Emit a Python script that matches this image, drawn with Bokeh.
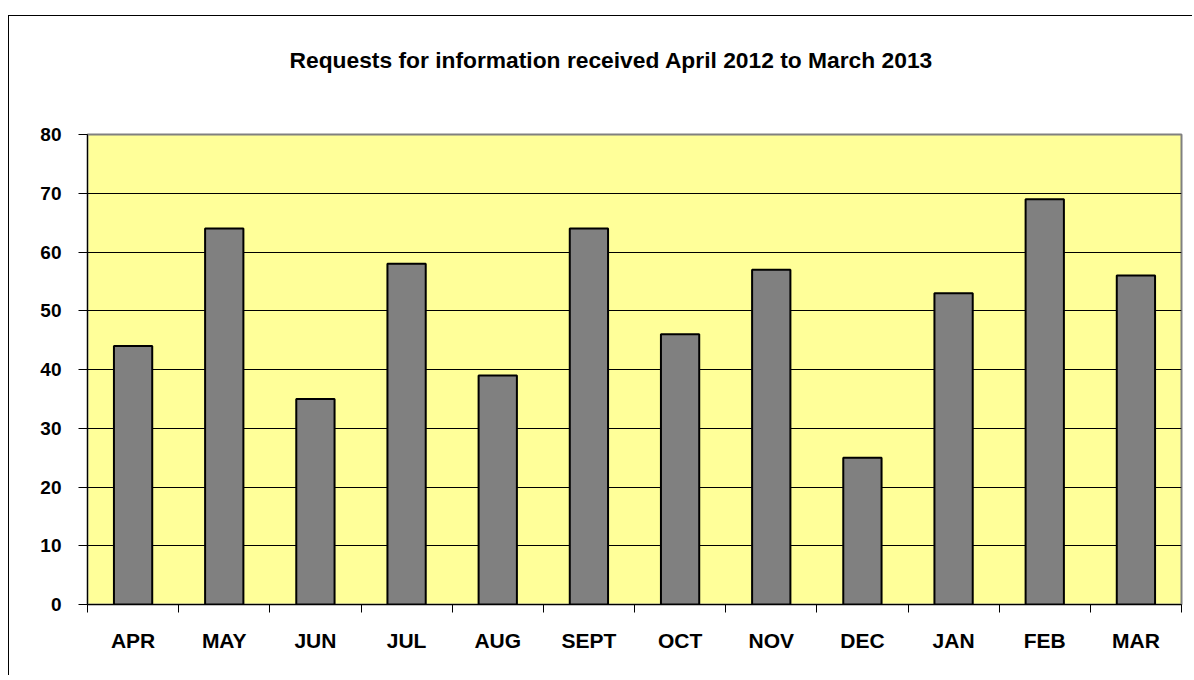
from bokeh.plotting import figure
from bokeh.models import FixedTicker, LinearAxis, Range1d, ColumnDataSource, Title
from bokeh.embed import file_html
from bokeh.resources import INLINE

months = ["APR", "MAY", "JUN", "JUL", "AUG", "SEPT", "OCT", "NOV", "DEC", "JAN", "FEB", "MAR"]
requests = [44, 64, 35, 58, 39, 64, 46, 57, 25, 53, 69, 56]
y_ticks = [0, 10, 20, 30, 40, 50, 60, 70, 80]
title_text = "Requests for information received April 2012 to March 2013"

FONT = "Liberation Sans"

positions = [i + 0.5 for i in range(len(months))]
src = ColumnDataSource(dict(x=positions, top=requests, month=months))

p = figure(width=1184, height=660, output_backend="svg", toolbar_location=None,
           x_range=Range1d(0, len(months)), y_range=Range1d(0, 80),
           x_axis_type=None, min_border_left=78, min_border_top=118,
           min_border_right=12, min_border_bottom=72)
p.styles = {"margin-top": "16px", "margin-left": "9px",
            "box-shadow": "-1px -1px 0px 0px black"}

p.background_fill_color = "#FFFF99"
p.border_fill_color = "white"
p.outline_line_color = "#808080"
p.outline_line_width = 2

p.vbar(x="x", top="top", width=0.42, bottom=0, source=src,
       fill_color="#808080", line_color="black", line_width=2)

# spacer between frame and title
p.add_layout(Title(text=" ", text_font_size="10px", standoff=44), "above")

# title
p.title.text = title_text
p.title.text_font = FONT
p.title.text_font_size = "22.8px"
p.title.text_font_style = "bold"
p.title.text_color = "black"
p.title.align = "left"
p.title.offset = 202
p.title.standoff = 10

# y axis
p.yaxis.ticker = FixedTicker(ticks=y_ticks)
p.yaxis.major_label_text_font = FONT
p.yaxis.major_label_text_font_size = "19px"
p.yaxis.major_label_text_font_style = "bold"
p.yaxis.major_label_text_color = "black"
p.yaxis.major_tick_out = 9
p.yaxis.major_tick_in = 0
p.yaxis.major_tick_line_color = "black"
p.yaxis.minor_tick_line_color = None
p.yaxis.major_label_standoff = 17
p.yaxis.axis_line_color = "black"
p.ygrid.ticker = FixedTicker(ticks=y_ticks[1:-1])
p.ygrid.grid_line_color = "black"
p.ygrid.grid_line_width = 1

# x axis: ticks at category boundaries
tick_axis = LinearAxis(ticker=FixedTicker(ticks=list(range(len(months) + 1))),
                       major_label_overrides={i: "" for i in range(len(months) + 1)},
                       major_tick_out=8, major_tick_in=0, minor_tick_line_color=None,
                       major_tick_line_color="black",
                       axis_line_color="black", major_label_text_font_size="1px",
                       major_label_standoff=0)
p.add_layout(tick_axis, "below")

label_axis = LinearAxis(ticker=FixedTicker(ticks=positions),
                        major_label_overrides={pos: m for pos, m in zip(positions, months)},
                        major_tick_out=0, major_tick_in=0, minor_tick_line_color=None,
                        axis_line_color=None, major_label_text_font=FONT,
                        major_label_text_font_size="21px", major_label_text_font_style="bold",
                        major_label_text_color="black",
                        major_label_standoff=16)
p.add_layout(label_axis, "below")
p.xgrid.visible = False

open("out.html", "w").write(file_html(p, INLINE))
